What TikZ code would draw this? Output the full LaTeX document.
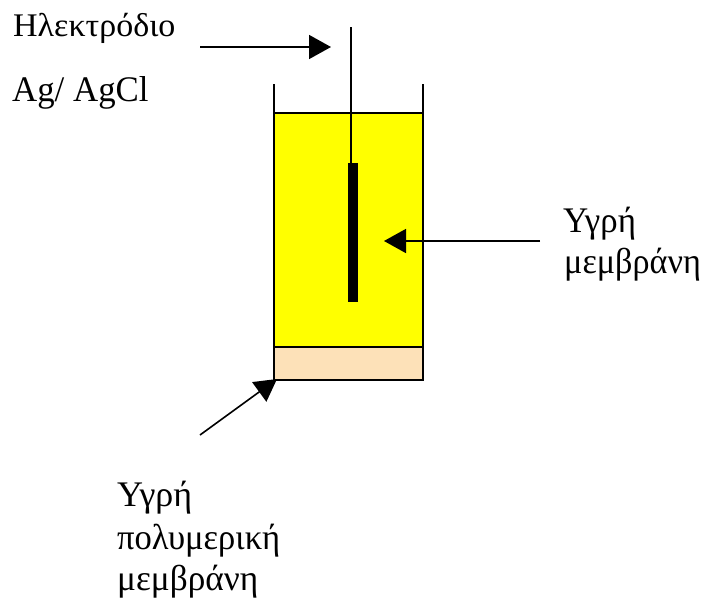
\documentclass[tikz,border=0pt]{standalone}
\usepackage{fontspec}
\setmainfont{Liberation Serif}
\usetikzlibrary{arrows.meta}
\definecolor{fillY}{RGB}{255,255,0}
\definecolor{fillP}{RGB}{253,225,184}
\tikzset{
  lbl/.style={inner sep=0pt,anchor=base west,font=\fontsize{36}{40}\selectfont},
  lbls/.style={inner sep=0pt,anchor=base west,font=\fontsize{33}{38}\selectfont},
  ln/.style={line width=1.6pt,black},
  arr/.style={ln,-{Triangle[length=22pt,width=24pt]}}
}
\begin{document}
\begin{tikzpicture}[x=1pt,y=-1pt]
\useasboundingbox (0,0) rectangle (704,600);
\fill[white] (0,0) rectangle (704,600);
\fill[fillY] (274,113) rectangle (423,347);
\fill[fillP] (274,347) rectangle (423,380);
\draw[ln] (274,84) -- (274,380) -- (423,380) -- (423,84);
\draw[ln] (274,113) -- (423,113);
\draw[ln] (274,347) -- (423,347);
\coordinate (wt) at (351,27);
\node[draw=none,fill=black,minimum width=10pt,minimum height=139pt,inner sep=0pt,anchor=north] (el) at (353,163) {};
\draw[ln] (wt) -- (351,163);
\coordinate (a1s) at (200,47);
\coordinate (a1e) at (331,47);
\draw[arr] (a1s) -- (a1e);
\coordinate (a2s) at (540,241);
\coordinate (a2e) at (384,241);
\draw[arr] (a2s) -- (a2e);
\coordinate (a3s) at (200,435);
\coordinate (a3e) at (277,379);
\draw[arr] (a3s) -- (a3e);
\node[lbls] (t1) at (13,36) {\scalebox{1.03}[1]{Ηλεκτρόδιο}};
\node[lbl] (t2) at (12,101) {\scalebox{.967}[1]{Ag/ AgCl}};
\node[lbl] (t3) at (563,232) {\scalebox{.97}[1]{Υγρή}};
\node[lbl] (t4) at (564,273) {\scalebox{.95}[1]{μεμβράνη}};
\node[lbl] (t5) at (117,506) {\scalebox{1}[1]{Υγρή}};
\node[lbl] (t6) at (117,549) {\scalebox{.96}[1]{πολυμερική}};
\node[lbl] (t7) at (117,590) {\scalebox{.98}[1]{μεμβράνη}};
\end{tikzpicture}
\end{document}
